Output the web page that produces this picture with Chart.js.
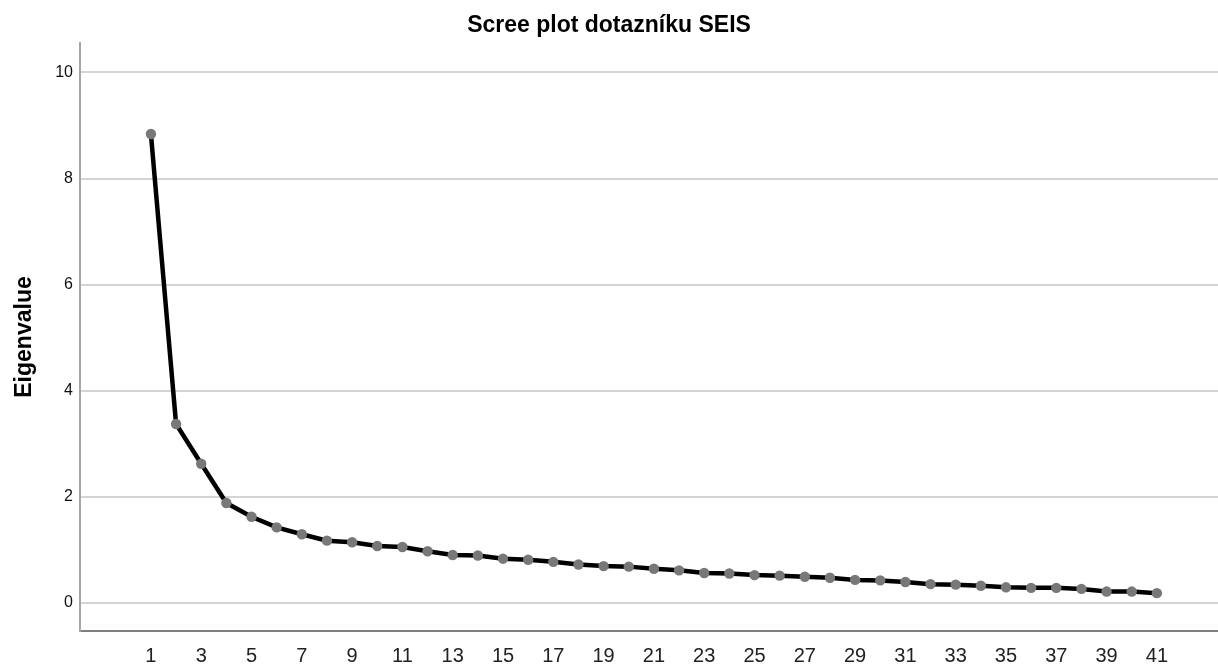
<!DOCTYPE html>
<html>
<head>
<meta charset="utf-8">
<title>Scree plot</title>
<script src="https://cdn.jsdelivr.net/npm/chart.js@4/dist/chart.umd.min.js"></script>
<style>
  html, body { margin: 0; padding: 0; background: #fff; }
  canvas { display: block; }
</style>
</head>
<body>
<canvas id="scree" width="1218" height="665"></canvas>
<script>
// component numbers and their eigenvalues
const components = [1, 2, 3, 4, 5, 6, 7, 8, 9, 10, 11, 12, 13, 14, 15, 16, 17, 18, 19, 20,
    21, 22, 23, 24, 25, 26, 27, 28, 29, 30, 31, 32, 33, 34, 35, 36, 37, 38, 39, 40, 41];
const eigenvalues = [8.84, 3.37, 2.62, 1.88, 1.62, 1.42, 1.29, 1.17, 1.14, 1.07,
    1.05, 0.97, 0.90, 0.89, 0.83, 0.81, 0.77, 0.72, 0.69, 0.68,
    0.64, 0.61, 0.56, 0.55, 0.52, 0.51, 0.49, 0.47, 0.43, 0.42,
    0.39, 0.35, 0.34, 0.32, 0.29, 0.28, 0.28, 0.26, 0.21, 0.21, 0.18];
const xTicks = [1, 3, 5, 7, 9, 11, 13, 15, 17, 19, 21, 23, 25, 27, 29, 31, 33, 35, 37, 39, 41];
const yTicks = [0, 2, 4, 6, 8, 10];

const FONT = 'Arial, "Liberation Sans", sans-serif';

const points = components.map((c, i) => ({ x: c, y: eigenvalues[i] }));

new Chart(document.getElementById('scree'), {
    type: 'line',
    data: {
        datasets: [{
            data: points,
            borderColor: '#000',
            borderWidth: 4.5,
            pointRadius: 5.2,
            pointBackgroundColor: '#787878',
            pointBorderColor: '#787878',
            pointBorderWidth: 0,
            tension: 0
        }]
    },
    options: {
        responsive: false,
        animation: false,
        devicePixelRatio: 1,
        layout: { padding: 0, autoPadding: false },
        plugins: {
            legend: { display: false },
            tooltip: { enabled: false },
            title: {
                display: true,
                text: 'Scree plot dotazníku SEIS',
                color: '#000',
                font: { family: FONT, size: 23, weight: 'bold' },
                padding: { top: 12, bottom: 3.4 }
            }
        },
        scales: {
            x: {
                type: 'linear',
                min: -1.82,
                max: 43.43,
                afterBuildTicks: s => { s.ticks = xTicks.map(v => ({ value: v })); },
                afterFit: s => { s.height = 34; },
                grid: { display: false, drawTicks: false },
                border: { display: true, color: '#7f7f7f', width: 2 },
                ticks: {
                    color: '#222',
                    font: { family: FONT, size: 20 },
                    padding: 13,
                    maxRotation: 0,
                    autoSkip: false
                }
            },
            y: {
                min: -0.534,
                max: 10.556,
                afterBuildTicks: s => { s.ticks = yTicks.map(v => ({ value: v })); },
                afterFit: s => { s.width = 80; },
                grid: { color: '#d4d4d4', lineWidth: 2, drawTicks: false },
                border: { display: true, color: '#a6a6a6', width: 2 },
                ticks: {
                    color: '#111',
                    font: { family: FONT, size: 16 },
                    padding: 7
                },
                title: {
                    display: true,
                    text: 'Eigenvalue',
                    color: '#000',
                    font: { family: FONT, size: 23, weight: 'bold' },
                    padding: { top: 11, bottom: 0 }
                }
            }
        }
    }
});
</script>
</body>
</html>
